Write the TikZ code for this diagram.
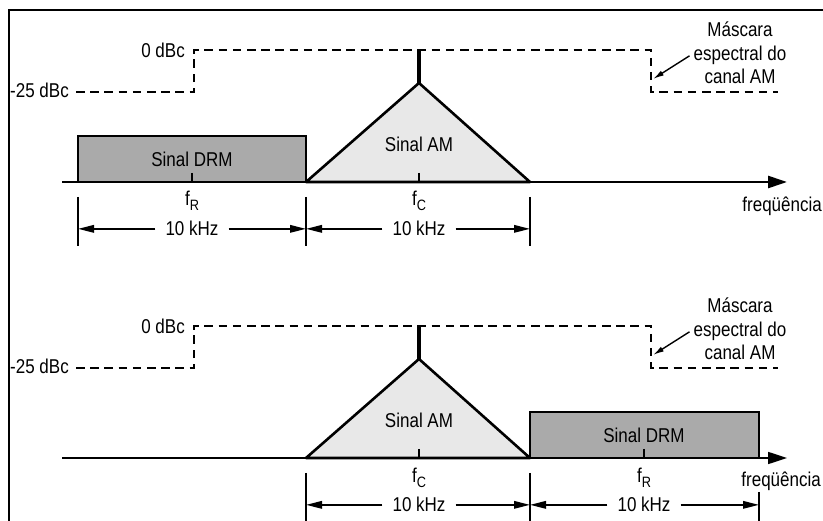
\documentclass[tikz,border=0pt]{standalone}
\usepackage{fontspec}
\setmainfont[FakeStretch=0.85]{Liberation Sans}
\usetikzlibrary{arrows.meta}

\begin{document}
\begin{tikzpicture}[x=1pt,y=-1pt,
  lbl/.style={font=\fontsize{20}{24}\selectfont, inner sep=0pt},
  maskline/.style={line width=2.6pt, dash pattern=on 8.5pt off 5.7pt},
  thickaxis/.style={line width=2.6pt, -{Triangle[length=19pt,width=12pt]}},
  thinaxis/.style={line width=1.7pt, -{Triangle[length=19pt,width=12pt]}},
  drmbox/.style={draw, line width=2.6pt, fill=drmgray},
  amshape/.style={draw, line width=2.6pt, fill=amgray, line join=round},
  spike/.style={line width=4.5pt},
  freqtick/.style={line width=2.6pt},
  dimtick/.style={line width=1.6pt},
  dimarrow/.style={line width=1.7pt, -{Triangle[length=16pt,width=7.5pt]}},
  notearrow/.style={line width=1.4pt, -{Latex[length=11pt,width=5.5pt]}},
  frameline/.style={line width=2.4pt}
]
\definecolor{drmgray}{HTML}{AAAAAA}
\definecolor{amgray}{HTML}{E8E8E8}
\newcommand{\fsub}[1]{f\raisebox{-5pt}{\fontsize{15}{15}\selectfont #1}}

\useasboundingbox (0,0) rectangle (823,521);

% outer frame: top and left edges only
\draw[frameline] (9,525) -- (9,10) -- (825,10);

% ================= upper spectrum: DRM below the AM channel =================
% spectral mask
\draw[maskline] (76,92) -- (194,92) -- (194,50) -- (651,50) -- (651,92) -- (778,92);
\node[lbl, anchor=base east] (ta0)  at (185,58) {0 dBc};
\node[lbl, anchor=base east] (ta25) at (69,98)  {-25 dBc};
\node[lbl, anchor=base] (tam1) at (740,37) {Máscara};
\node[lbl, anchor=base] (tam2) at (740,61) {espectral do};
\node[lbl, anchor=base] (tam3) at (740,84) {canal AM};
\coordinate (maskA) at (653,79);
\draw[notearrow] ([xshift=-4pt]tam2.west) -- (maskA);

% signals
\draw[drmbox] (78,182) rectangle (306,136);
\draw[amshape] (306,182) -- (419,83) -- (530,182) -- cycle;
\draw[spike] (419,84) -- (419,50);
\draw[thickaxis] (62,182) -- (787,182);
\draw[freqtick] (192,173) -- (192,182);
\draw[freqtick] (419,173) -- (419,182);
\node[lbl, anchor=base] (tadrm) at (192,167) {Sinal DRM};
\node[lbl, anchor=base] (taam)  at (419,152) {Sinal AM};
\node[lbl, anchor=base] (tafr)  at (192,206) {\fsub{R}};
\node[lbl, anchor=base] (tafc)  at (419,206) {\fsub{C}};
\node[lbl, anchor=base east] (tafq) at (822,212) {freqüência};

% bandwidth dimensions
\coordinate (da1) at (78,197);
\coordinate (da2) at (306,197);
\coordinate (da3) at (530,197);
\foreach \c in {da1,da2,da3} \draw[dimtick] (\c) -- ++(0,49);
\node[lbl, anchor=base] (tak1) at (192,236) {10 kHz};
\node[lbl, anchor=base] (tak2) at (419,236) {10 kHz};
\draw[dimarrow] ([xshift=-10pt]tak1.west) -- (tak1.west -| da1);
\draw[dimarrow] ([xshift=10pt]tak1.east) -- (tak1.east -| da2);
\draw[dimarrow] ([xshift=-10pt]tak2.west) -- (tak2.west -| da2);
\draw[dimarrow] ([xshift=10pt]tak2.east) -- (tak2.east -| da3);

% ================= lower spectrum: DRM above the AM channel =================
% spectral mask
\draw[maskline] (76,368) -- (194,368) -- (194,326) -- (651,326) -- (651,368) -- (778,368);
\node[lbl, anchor=base east] (tb0)  at (185,334) {0 dBc};
\node[lbl, anchor=base east] (tb25) at (69,374)  {-25 dBc};
\node[lbl, anchor=base] (tbm1) at (740,313) {Máscara};
\node[lbl, anchor=base] (tbm2) at (740,337) {espectral do};
\node[lbl, anchor=base] (tbm3) at (740,360) {canal AM};
\coordinate (maskB) at (653,355);
\draw[notearrow] ([xshift=-4pt]tbm2.west) -- (maskB);

% signals
\draw[thinaxis] (62,458) -- (787,458);
\draw[amshape] (306,458) -- (419,359) -- (530,458) -- cycle;
\draw[spike] (419,360) -- (419,326);
\draw[drmbox] (530,458) rectangle (759,412);
\draw[freqtick] (419,449) -- (419,458);
\draw[freqtick] (644,449) -- (644,458);
\node[lbl, anchor=base] (tbam)  at (419,428) {Sinal AM};
\node[lbl, anchor=base] (tbdrm) at (644,443) {Sinal DRM};
\node[lbl, anchor=base] (tbfc)  at (419,483) {\fsub{C}};
\node[lbl, anchor=base] (tbfr)  at (644,483) {\fsub{R}};
\node[lbl, anchor=base east] (tbfq) at (821,487) {freqüência};

% bandwidth dimensions
\coordinate (db1) at (306,473);
\coordinate (db2) at (530,473);
\coordinate (db3) at (759,492);
\foreach \c in {db1,db2,db3} \draw[dimtick] (\c) -- (\c |- 0,525);
\node[lbl, anchor=base] (tbk1) at (419,512) {10 kHz};
\node[lbl, anchor=base] (tbk2) at (644,512) {10 kHz};
\draw[dimarrow] ([xshift=-10pt]tbk1.west) -- (tbk1.west -| db1);
\draw[dimarrow] ([xshift=10pt]tbk1.east) -- (tbk1.east -| db2);
\draw[dimarrow] ([xshift=-10pt]tbk2.west) -- (tbk2.west -| db2);
\draw[dimarrow] ([xshift=10pt]tbk2.east) -- (tbk2.east -| db3);
\end{tikzpicture}
\end{document}
